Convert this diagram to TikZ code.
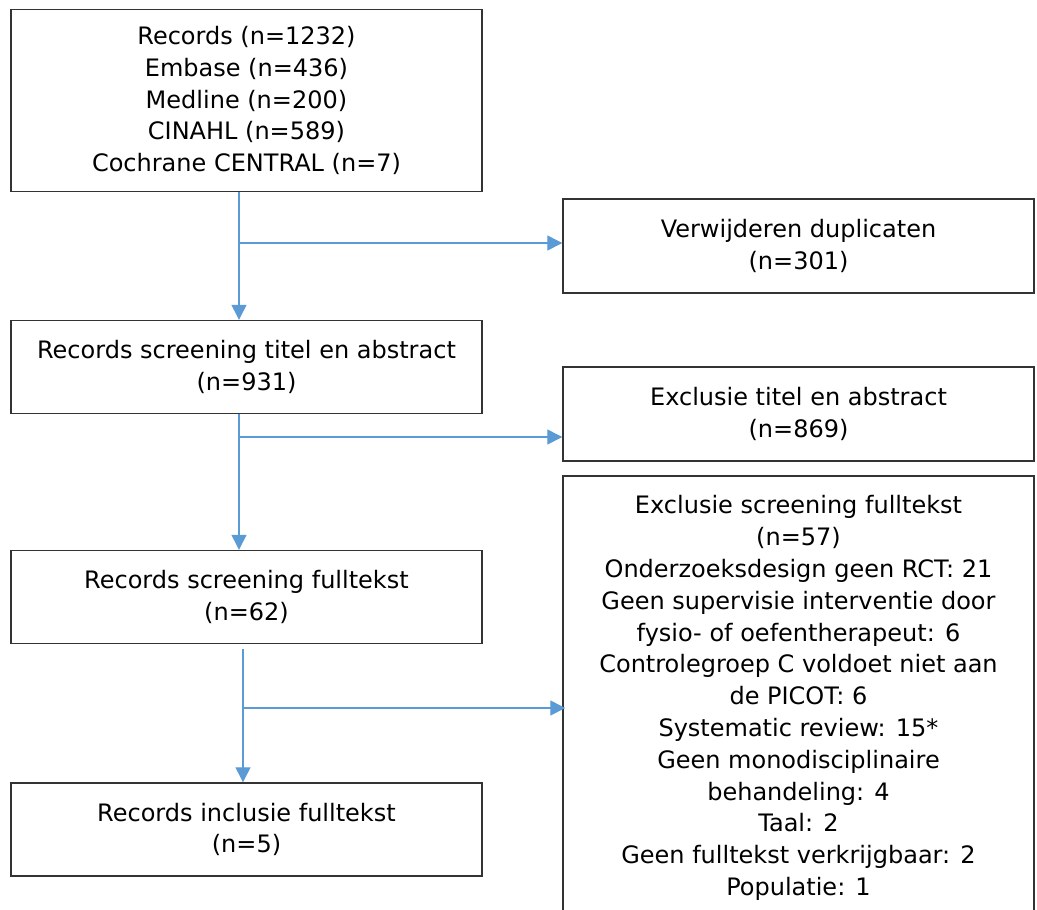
\documentclass[tikz,border=0pt]{standalone}
\usepackage{fontspec}
\setmainfont{DejaVu Sans}
\usepackage{xcolor}
\usetikzlibrary{arrows.meta}
\definecolor{flowblue}{RGB}{91,155,213}

\begin{document}
\begin{tikzpicture}[x=1pt,y=-1pt,
	box/.style={draw=black!80,line width=1.4pt,rectangle,align=center,inner sep=0pt,
		minimum width=471pt,minimum height=93pt,font=\fontsize{24}{31.8}\selectfont},
	flow/.style={color=flowblue,line width=1.3pt,-{Triangle[length=15pt,width=15pt]}}]
		\useasboundingbox (0,0) rectangle (1037,910);
		\node[box,minimum height=182pt] (rec) at (246.5,100.5) {Records (n=1232)\\Embase (n=436)\\Medline (n=200)\\CINAHL (n=589)\\Cochrane CENTRAL (n=7)};
		\node[box,minimum height=94pt] (dup) at (798.5,246) {Verwijderen duplicaten\\(n=301)};
		\node[box] (scr) at (246.5,367) {Records screening titel en abstract\\(n=931)};
		\node[box,minimum height=94pt] (exa) at (798.5,414) {Exclusie titel en abstract\\(n=869)};
		\node[box,minimum height=444pt] (exf) at (798.5,698) {Exclusie screening fulltekst\\(n=57)\\Onderzoeksdesign geen RCT: 21\\Geen supervisie interventie door\\fysio- of oefentherapeut: 6\\Controlegroep C voldoet niet aan\\de PICOT: 6\\Systematic review: 15*\\Geen monodisciplinaire\\behandeling: 4\\Taal: 2\\Geen fulltekst verkrijgbaar: 2\\Populatie: 1};
		\node[box] (fts) at (246.5,597) {Records screening fulltekst\\(n=62)};
		\node[box] (inc) at (246.5,829.5) {Records inclusie fulltekst\\(n=5)};
		%
		\coordinate (s1) at (239,243);
		\coordinate (s2) at (239,437);
		\coordinate (s3) at (243,708);
		%
		\path[flow]
		% vertical arrows
		(s1 |- rec.south) edge (s1 |- scr.north)
		(s2 |- scr.south) edge (s2 |- fts.north)
		(s3 |- fts.south) edge[shorten <=5pt] (s3 |- inc.north)
		% side arrows
		(s1) edge (s1 -| dup.west)
		(s2) edge (s2 -| exa.west)
		(s3) edge[shorten >=-3pt] (s3 -| exf.west);
	\end{tikzpicture}
\end{document}
